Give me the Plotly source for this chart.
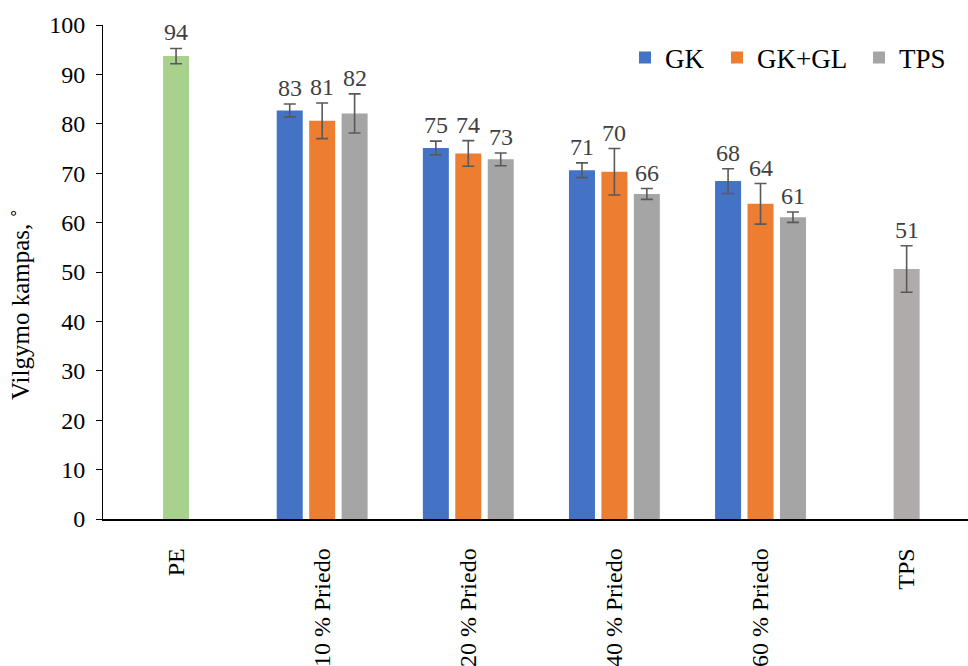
import plotly.graph_objects as go

# Categories along the x axis
categories = ["PE", "10 % Priedo", "20 % Priedo", "40 % Priedo", "60 % Priedo", "TPS"]
filler_groups = ["10 % Priedo", "20 % Priedo", "40 % Priedo", "60 % Priedo"]

# Contact angle (degrees) and standard deviation per series
gk_values = [82.7, 75.1, 70.6, 68.4]
gk_errors = [1.3, 1.4, 1.5, 2.5]
gkgl_values = [80.6, 74.0, 70.3, 63.8]
gkgl_errors = [3.6, 2.6, 4.7, 4.1]
tps_values = [82.1, 72.8, 65.8, 61.1]
tps_errors = [3.95, 1.3, 1.1, 1.05]
pe_value = [93.7]
pe_error = [1.55]
tps_pure_value = [50.6]
tps_pure_error = [4.7]

FONT = "Liberation Serif, Times New Roman, serif"
FS = 24
BAR_W = 0.178
STEP = 0.222
ERR_COLOR = "#595959"

# plot area in pixels (used for paper-coordinate placement)
L, T, W, H = 103, 25, 865, 494

fig = go.Figure()


def add_bars(name, xs, ys, errs, color, center_shift, legend_id=None):
    fig.add_trace(go.Bar(
        name=name, x=xs, y=ys,
        width=BAR_W, offset=center_shift - BAR_W / 2,
        marker=dict(color=color, line=dict(width=0)),
        error_y=dict(type="data", array=errs, visible=True,
                     color=ERR_COLOR, thickness=1.6, width=6),
        showlegend=legend_id is not None,
        legend=legend_id or "legend",
    ))
    # value labels sit just above the error bar caps
    for x, y, e in zip(xs, ys, errs):
        fig.add_annotation(
            x=categories.index(x) + center_shift, y=y + e,
            xref="x", yref="y", text=f"{y:.0f}", showarrow=False,
            yanchor="bottom", yshift=1,
            font=dict(family=FONT, size=FS, color="#404040"),
        )


add_bars("PE", ["PE"], pe_value, pe_error, "#A9D18E", 0.0)
add_bars("GK", filler_groups, gk_values, gk_errors, "#4472C4", -STEP, "legend")
add_bars("GK+GL", filler_groups, gkgl_values, gkgl_errors, "#ED7D31", 0.0, "legend2")
add_bars("TPS", filler_groups, tps_values, tps_errors, "#A5A5A5", STEP, "legend3")
add_bars("TPS ", ["TPS"], tps_pure_value, tps_pure_error, "#AFABAB", 0.0)


def legend_box(px):
    return dict(
        orientation="h", x=(px - L) / W, xanchor="left",
        y=(T + H - 58) / H, yanchor="middle",
        font=dict(family=FONT, size=27, color="black"),
        bgcolor="rgba(0,0,0,0)", itemclick=False, borderwidth=0,
    )


fig.update_layout(
    width=968, height=666,
    margin=dict(l=L, r=968 - L - W, t=T, b=666 - T - H),
    paper_bgcolor="white", plot_bgcolor="white",
    barmode="overlay",
    font=dict(family=FONT, size=FS, color="black"),
    legend=legend_box(625),
    legend2=legend_box(717),
    legend3=legend_box(859),
    xaxis=dict(
        type="category", categoryorder="array", categoryarray=categories,
        range=[-0.5, 5.42], showline=True, linecolor="black", linewidth=1.5,
        ticks="", tickangle=-90, showgrid=False, zeroline=False,
        tickfont=dict(family=FONT, size=FS, color="black"),
        ticklabelstandoff=18,
    ),
    yaxis=dict(
        range=[0, 100], tickmode="array", tickvals=list(range(0, 101, 10)),
        showline=True, linecolor="black", linewidth=1,
        ticks="outside", ticklen=6, tickcolor="black", tickwidth=1,
        showgrid=False, zeroline=False,
        tickfont=dict(family=FONT, size=FS, color="black"),
        ticklabelstandoff=6,
    ),
)

# y-axis title
fig.add_annotation(
    text="Vilgymo kampas, ˚", textangle=-90, showarrow=False,
    xref="paper", yref="paper",
    x=(20 - L) / W, xanchor="center",
    y=(T + H - 305) / H, yanchor="middle",
    font=dict(family=FONT, size=25, color="black"),
)

fig.write_html("out.html")
